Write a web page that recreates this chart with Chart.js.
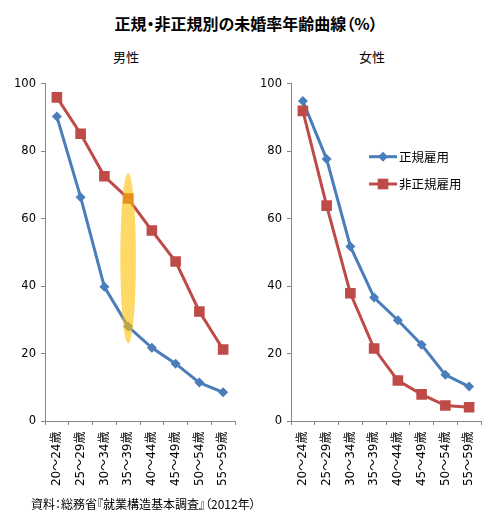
<!DOCTYPE html>
<html><head><meta charset="utf-8">
<script src="https://cdn.jsdelivr.net/npm/chart.js@4.4.1/dist/chart.umd.min.js"></script>
<style>
html,body{margin:0;padding:0;background:#fff;}
#wrap{position:relative;width:499px;height:524px;overflow:hidden;font-family:"Noto Sans CJK JP",sans-serif;color:#000;}
.t{position:absolute;white-space:nowrap;}
.p{font-feature-settings:"palt" 1;}
canvas{position:absolute;}
</style></head><body>
<div id="wrap">
<canvas id="male" width="245" height="430" style="left:0px;top:72px;width:245px;height:430px;"></canvas>
<canvas id="female" width="245" height="430" style="left:246px;top:72px;width:245px;height:430px;"></canvas>
<div class="t p" style="left:0;width:492px;text-align:center;top:12px;line-height:22px;font-size:16px;font-weight:bold;">正規・非正規別の未婚率年齢曲線（%）</div>
<div class="t" style="left:96px;width:60px;text-align:center;top:47px;line-height:20px;font-size:13px;">男性</div>
<div class="t" style="left:342px;width:60px;text-align:center;top:47px;line-height:20px;font-size:13px;">女性</div>
<div class="t p" style="left:31px;top:494px;line-height:20px;font-size:12px;">資料：総務省『就業構造基本調査』（2012年）</div>
</div>
<script>
const categories = ['20～24歳','25～29歳','30～34歳','35～39歳','40～44歳','45～49歳','50～54歳','55～59歳'];
const seriesNames = ['正規雇用','非正規雇用'];
const maleRegular = [90.3, 66.4, 39.8, 28.0, 21.7, 17.0, 11.4, 8.5];
const maleNonRegular = [96.0, 85.2, 72.6, 66.0, 56.5, 47.3, 32.5, 21.2];
const femaleRegular = [94.9, 77.7, 51.8, 36.6, 29.9, 22.6, 13.7, 10.2];
const femaleNonRegular = [92.0, 63.9, 37.9, 21.5, 12.0, 7.9, 4.6, 4.1];
const yTickValues = [0, 20, 40, 60, 80, 100];
const highlightCategory = '35～39歳';
const highlightRange = [23, 73.5];

const BLUE = '#4A7EBB';
const RED = '#BE4B48';
const AXIS = '#868686';
const NUMFONT = '"DejaVu Sans", "Noto Sans CJK JP", sans-serif';

function makeDatasets(reg, non) {
  return [
    {label: seriesNames[0], data: reg, borderColor: BLUE, backgroundColor: BLUE,
     borderWidth: 3, pointStyle: 'rectRot', pointRadius: 5, pointBorderWidth: 0,
     pointBackgroundColor: BLUE, tension: 0, order: 2},
    {label: seriesNames[1], data: non, borderColor: RED, backgroundColor: RED,
     borderWidth: 3, pointStyle: 'rect', pointRadius: 7.5, pointBorderWidth: 0,
     pointBackgroundColor: RED, tension: 0, order: 1}
  ];
}

const ellipsePlugin = {
  id: 'highlightEllipse',
  afterDatasetsDraw(chart, args, opts) {
    if (!opts.show) return;
    const xs = chart.scales.x, ys = chart.scales.y;
    const cx = xs.getPixelForValue(categories.indexOf(highlightCategory));
    const y1 = ys.getPixelForValue(highlightRange[1]);
    const y0 = ys.getPixelForValue(highlightRange[0]);
    const ctx = chart.ctx;
    ctx.save();
    ctx.fillStyle = 'rgba(255,192,0,0.6)';
    ctx.beginPath();
    ctx.ellipse(cx, (y0 + y1) / 2, 7.8, (y0 - y1) / 2, 0, 0, Math.PI * 2);
    ctx.fill();
    ctx.restore();
  }
};

const legendPlugin = {
  id: 'insideLegend',
  afterDraw(chart, args, opts) {
    if (!opts.show) return;
    const ctx = chart.ctx;
    chart.data.datasets.forEach((ds, i) => {
      const y = opts.y + i * opts.gap;
      ctx.save();
      ctx.strokeStyle = ds.borderColor;
      ctx.lineWidth = ds.borderWidth;
      ctx.beginPath();
      ctx.moveTo(opts.x, y);
      ctx.lineTo(opts.x + opts.len, y);
      ctx.stroke();
      ctx.fillStyle = ds.pointBackgroundColor;
      ctx.strokeStyle = ds.pointBackgroundColor;
      Chart.helpers.drawPoint(ctx, {pointStyle: ds.pointStyle, radius: ds.pointRadius, rotation: 0, borderWidth: 0},
        opts.x + opts.len / 2, y);
      ctx.fillStyle = '#000';
      ctx.font = '12.5px "Noto Sans CJK JP", sans-serif';
      ctx.textBaseline = 'middle';
      ctx.textAlign = 'left';
      ctx.fillText(ds.label, opts.x + opts.len + 2, y + 0.5);
      ctx.restore();
    });
  }
};

function makeChart(id, reg, non, showEllipse, showLegend) {
  return new Chart(document.getElementById(id), {
    type: 'line',
    data: {labels: categories, datasets: makeDatasets(reg, non)},
    plugins: [ellipsePlugin, legendPlugin],
    options: {
      responsive: false,
      animation: false,
      events: [],
      layout: {padding: {top: 10, right: 10, left: 0, bottom: 0}},
      plugins: {
        legend: {display: false},
        tooltip: {enabled: false},
        title: {display: false},
        highlightEllipse: {show: showEllipse},
        insideLegend: {show: showLegend, x: 123, y: 84.7, gap: 27.3, len: 28}
      },
      scales: {
        x: {
          offset: true,
          grid: {display: true, drawOnChartArea: false, drawTicks: true, tickLength: 4, color: AXIS, offset: true},
          border: {display: true, color: AXIS, width: 1},
          ticks: {autoSkip: false, minRotation: 90, maxRotation: 90, padding: 6.5, color: '#000',
                  font: {family: NUMFONT, size: 12}},
          afterFit(scale) { scale.height = 81; }
        },
        y: {
          min: 0, max: 100,
          afterBuildTicks(scale) { scale.ticks = yTickValues.map(v => ({value: v})); },
          grid: {display: true, drawOnChartArea: false, drawTicks: true, tickLength: 4, color: AXIS},
          border: {display: true, color: AXIS, width: 1},
          ticks: {padding: 5, color: '#000', font: {family: NUMFONT, size: 11.5}},
          afterFit(scale) { scale.width = 45; }
        }
      }
    }
  });
}

makeChart('male', maleRegular, maleNonRegular, true, false);
makeChart('female', femaleRegular, femaleNonRegular, false, true);
</script>
</body></html>
